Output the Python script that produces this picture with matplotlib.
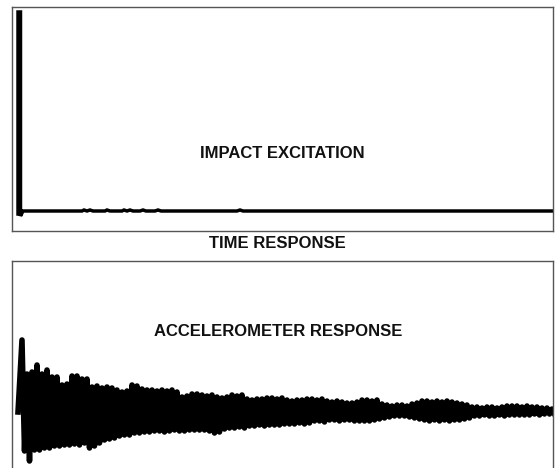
import numpy as np
import matplotlib
matplotlib.use('Agg')
from matplotlib import pyplot as plt

plt.rcParams['font.family'] = ['Liberation Sans', 'DejaVu Sans']

# impact hammer force (time in ms, force in arbitrary units)
force_t = [6, 6, 8.5, 8.5, 11, 70, 72, 75, 78, 81, 93, 95, 98, 110, 112, 115, 118,
           121, 128, 131, 134, 143, 146, 149, 152, 225, 228, 231, 541]
force_v = [-3, 199, 199, -5, 0, 0, 1, 0, 1, 0, 0, 1, 0, 0, 1, 0, 1,
           0, 0, 1, 0, 0, 1, 0, 0, 0, 1, 0, 0]

# accelerometer response: positive peaks and negative troughs
peak_t = np.arange(10, 541, 5)
peaks = [72, 38, 40, 47, 38, 42, 35, 35, 27, 28, 36, 36, 33, 33, 25, 26,
         24, 25, 24, 22, 20, 21, 27, 26, 23, 22, 22, 21, 22, 21, 22, 20,
         15, 16, 18, 18, 17, 16, 17, 15, 14, 15, 17, 16, 17, 13, 12, 13,
         13, 14, 14, 13, 14, 12, 11, 12, 12, 13, 13, 12, 13, 11, 10, 11,
         10, 9, 9, 10, 12, 12, 11, 12, 8, 7, 6, 7, 7, 6, 8, 9,
         11, 11, 10, 11, 10, 11, 10, 9, 8, 7, 5, 5, 4, 5, 5, 4,
         5, 6, 6, 6, 5, 6, 5, 5, 4, 4, 3]
troughs = [-39, -49, -38, -38, -36, -36, -34, -34, -33, -33, -32, -33, -31, -36, -34, -31,
           -28, -27, -26, -24, -23, -23, -21, -21, -20, -20, -19, -19, -20, -19, -18, -19,
           -19, -18, -18, -18, -18, -19, -21, -20, -17, -16, -16, -15, -16, -14, -14, -13,
           -14, -13, -13, -13, -12, -12, -12, -11, -12, -11, -9, -9, -10, -8, -8, -9,
           -8, -8, -9, -9, -9, -9, -8, -7, -6, -5, -4, -4, -4, -5, -6, -7,
           -8, -9, -8, -9, -8, -9, -8, -8, -7, -6, -4, -4, -3, -4, -4, -3,
           -4, -3, -3, -3, -3, -3, -2, -3, -2, -2, -2]

acc_t = np.empty(2 * len(peak_t) + 1)
acc_v = np.empty(2 * len(peak_t) + 1)
acc_t[0], acc_v[0] = 6, 0
acc_t[1::2], acc_v[1::2] = peak_t, peaks
acc_t[2::2], acc_v[2::2] = peak_t + 2.5, troughs

W, H = 555, 468
fig = plt.figure(figsize=(W / 100, H / 100), dpi=100)

ax1 = fig.add_axes([12 / W, 1 - 231 / H, 541 / W, 224 / H])
ax1.plot(force_t, force_v, color='black', lw=2.5, solid_joinstyle='miter')
ax1.set_xlim(0, 541)
ax1.set_ylim(-20, 204)

ax2 = fig.add_axes([12 / W, 1 - 471 / H, 541 / W, 210 / H])
ax2.plot(acc_t, acc_v, color='black', lw=4.0, solid_joinstyle='round')
ax2.set_xlim(0, 541)
ax2.set_ylim(-59, 151)

for ax in (ax1, ax2):
    ax.set_xticks([])
    ax.set_yticks([])
    for s in ax.spines.values():
        s.set_color('#555555')
        s.set_linewidth(1.0)

fig.text(282 / W, 1 - 154 / H, 'IMPACT EXCITATION', ha='center', va='center',
         fontsize=12, fontweight='bold', color='#111111')
fig.text(277 / W, 1 - 243 / H, 'TIME RESPONSE', ha='center', va='center',
         fontsize=12, fontweight='bold', color='#111111')
fig.text(278 / W, 1 - 332 / H, 'ACCELEROMETER RESPONSE', ha='center', va='center',
         fontsize=12, fontweight='bold', color='#111111')

fig.savefig('out.png', dpi=100)
